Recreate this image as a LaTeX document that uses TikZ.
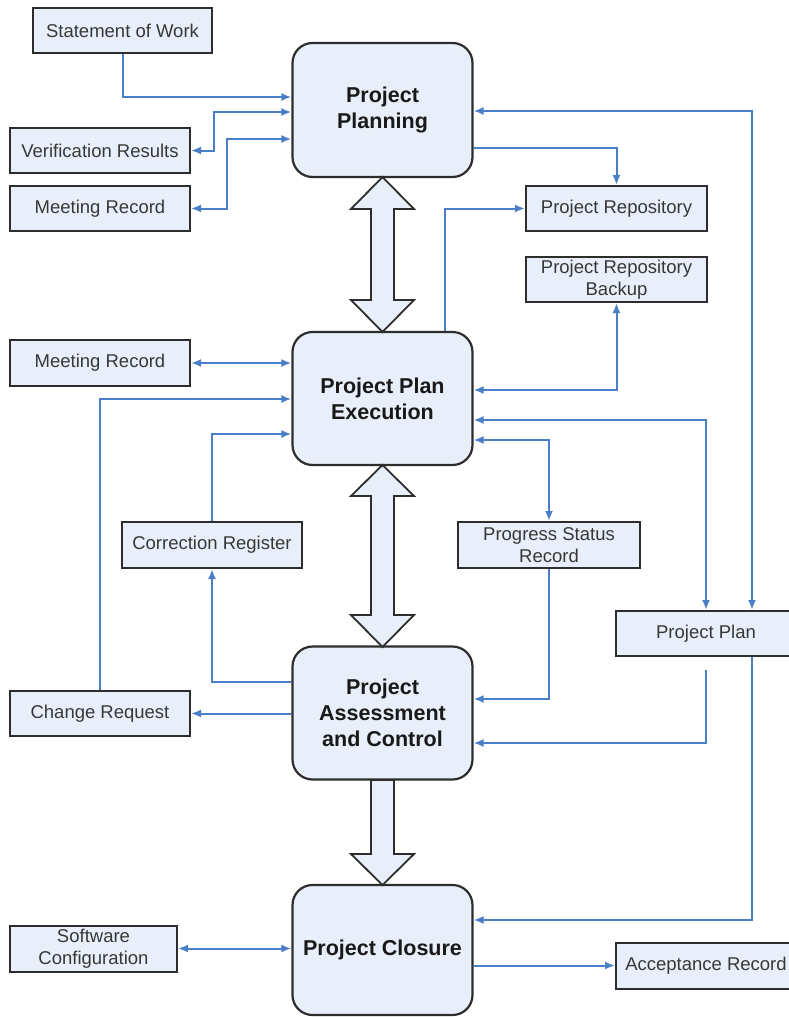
\documentclass[tikz,border=0pt]{standalone}
\usepackage{fontspec}
\setmainfont{Liberation Sans}
\usetikzlibrary{arrows.meta,calc}
\definecolor{boxfill}{RGB}{233,239,250}
\definecolor{lineblue}{RGB}{74,126,199}
\definecolor{edgegray}{RGB}{45,45,45}
\definecolor{txtgray}{RGB}{55,55,55}
\begin{document}
\begin{tikzpicture}[x=1pt,y=-1pt,
 mainbox/.style={draw=edgegray,line width=2.2pt,fill=boxfill,rounded corners=20pt,minimum width=180pt,align=center,font=\fontsize{21.5}{26}\selectfont\bfseries,text=black!90,inner sep=0pt},
 smallbox/.style={draw=edgegray,line width=2pt,fill=boxfill,minimum width=180pt,minimum height=45pt,align=center,font=\fontsize{18.5}{22}\selectfont,text=txtgray,inner sep=0pt},
 conn/.style={draw=lineblue,line width=2pt,-{Latex[length=10pt,width=8pt]}},
 dconn/.style={draw=lineblue,line width=2pt,{Latex[length=10pt,width=8pt]}-{Latex[length=10pt,width=8pt]}},
 bigarrow/.style={draw=edgegray,line width=1.8pt,fill=boxfill,line join=miter}
]
\useasboundingbox (0,0) rectangle (789,1017);
\clip (0,0) rectangle (789,1017);
\fill[white] (0,0) rectangle (789,1017);

% main boxes
\node[mainbox,minimum height=134pt] (plan) at (382.5,110) {Project\\Planning};
\node[mainbox,minimum height=133pt] (exec) at (382.5,398.5) {Project Plan\\Execution};
\node[mainbox,minimum height=133pt] (assess) at (382.5,713) {Project\\Assessment\\and Control};
\node[mainbox,minimum height=130pt] (close) at (382.5,950) {Project Closure};

% small boxes
\node[smallbox,minimum width=179pt] (sow) at (122.5,30.5) {Statement of Work};
\node[smallbox] (ver) at (100,150.5) {Verification Results};
\node[smallbox] (mr1) at (100,208.5) {Meeting Record};
\node[smallbox,minimum width=181pt] (repo) at (616.5,208.5) {Project Repository};
\node[smallbox,minimum width=181pt] (backup) at (616.5,279.5) {Project Repository\\Backup};
\node[smallbox,minimum height=46pt] (mr2) at (100,363) {Meeting Record};
\node[smallbox,minimum height=46pt] (cr) at (212,545) {Correction Register};
\node[smallbox,minimum width=182pt,minimum height=46pt] (psr) at (549,545) {Progress Status\\Record};
\node[smallbox] (chg) at (100,713.5) {Change Request};
\node[smallbox] (pplan) at (706,633.5) {Project Plan};
\node[smallbox,minimum width=167pt,minimum height=46pt] (swc) at (93.5,948.5) {Software\\Configuration};
\node[smallbox,minimum height=46pt] (acc) at (706,965.5) {Acceptance Record};

% big hollow arrows
\draw[bigarrow] (382.5,177) -- (414,209) -- (394,209) -- (394,300) -- (414,300) -- (382.5,332)
  -- (351,300) -- (371,300) -- (371,209) -- (351,209) -- cycle;
\draw[bigarrow] (382.5,465) -- (414,496) -- (394,496) -- (394,615) -- (414,615) -- (382.5,647)
  -- (351,615) -- (371,615) -- (371,496) -- (351,496) -- cycle;
\draw[bigarrow] (371,780) -- (394,780) -- (394,854) -- (414,854) -- (382.5,885)
  -- (351,854) -- (371,854) -- cycle;

% connectors around Project Planning
\draw[conn] (sow.south) |- (plan.west |- 0,97);
\draw[dconn] (ver.east) -- ++(23,0) |- (plan.west |- 0,112);
\draw[dconn] (mr1.east) -- ++(36,0) |- (plan.west |- 0,139);
\draw[dconn] (pplan.north -| 752,0) |- (plan.east |- 0,111);
\draw[conn] (plan.east |- 0,148) -| (repo.north);

% connectors around Project Plan Execution
\draw[conn] (exec.north -| 445,0) |- (repo.west);
\draw[dconn] (backup.south) |- (exec.east |- 0,390);
\draw[dconn] (mr2.east) -- (exec.west |- mr2.east);
\draw[conn] (chg.north) |- (exec.west |- 0,399);
\draw[conn] (cr.north) |- (exec.west |- 0,434);
\draw[dconn] (exec.east |- 0,420) -| (pplan.north);
\draw[dconn] (exec.east |- 0,440) -| (psr.north);

% connectors around Project Assessment and Control
\draw[conn] (assess.west |- 0,682) -| (cr.south);
\draw[conn] (assess.west |- chg.east) -- (chg.east);
\draw[conn] (psr.south) |- (assess.east |- 0,699);
\draw[conn] ([yshift=-13pt]pplan.south) |- (assess.east |- 0,743);

% connectors around Project Closure
\draw[conn] (pplan.south -| 752,0) |- (close.east |- 0,920);
\draw[dconn] (swc.east) -- (close.west |- swc.east);
\draw[conn] (close.east |- acc.west) -- (acc.west);
\end{tikzpicture}
\end{document}
